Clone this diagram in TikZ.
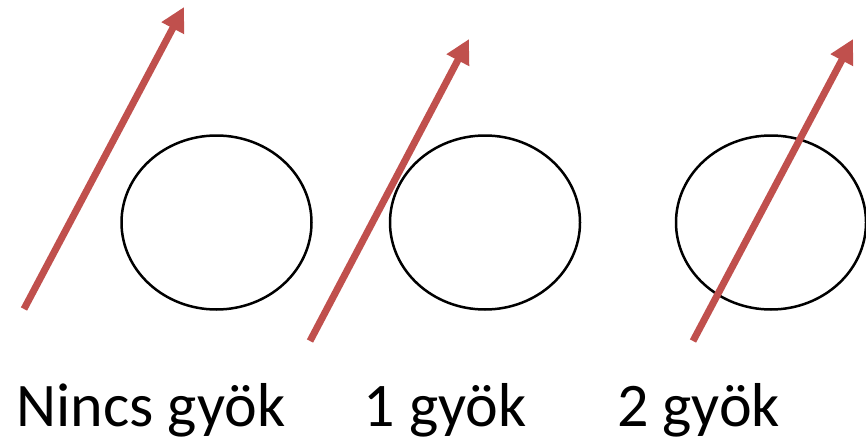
\documentclass[tikz,border=0pt]{standalone}
\usepackage{fontspec}
\setmainfont{Carlito}
\usepackage{tikz}
\usepackage{xcolor}
\usetikzlibrary{arrows.meta,positioning,shapes.geometric}
\definecolor{LineRed}{RGB}{192,80,77}

\begin{document}
\begin{tikzpicture}[x=1pt, y=-1pt,
    kor/.style={draw, ellipse, line width=2.5pt, minimum width=190pt, minimum height=174pt, inner sep=0pt},
    egyenes/.style={LineRed, line width=7pt, -{Triangle[length=24pt,width=24pt]}},
    felirat/.style={anchor=base, inner sep=0pt, font=\fontsize{62}{70}\selectfont}]
        \useasboundingbox (0,0) rectangle (866,441);
        % circles
        \node[kor] (kor1) at (216.5,222.5) {};
        \node[kor] (kor2) at (485,222.5) {};
        \node[kor] (kor3) at (771,222.5) {};
        % lines
        \coordinate (a1) at (24,309);  \coordinate (b1) at (184,7);
        \coordinate (a2) at (310,341); \coordinate (b2) at (469,39);
        \coordinate (a3) at (693,341); \coordinate (b3) at (853,39);
        \draw[egyenes] (a1) -- (b1);
        \draw[egyenes] (a2) -- (b2);
        \draw[egyenes] (a3) -- (b3);
        % labels
        \node[felirat] (f1) at (151,426) {Nincs gyök};
        \node[felirat] (f2) at (445,426) {1 gyök};
        \node[felirat] (f3) at (698.5,426) {2 gyök};
      \end{tikzpicture}
\end{document}
